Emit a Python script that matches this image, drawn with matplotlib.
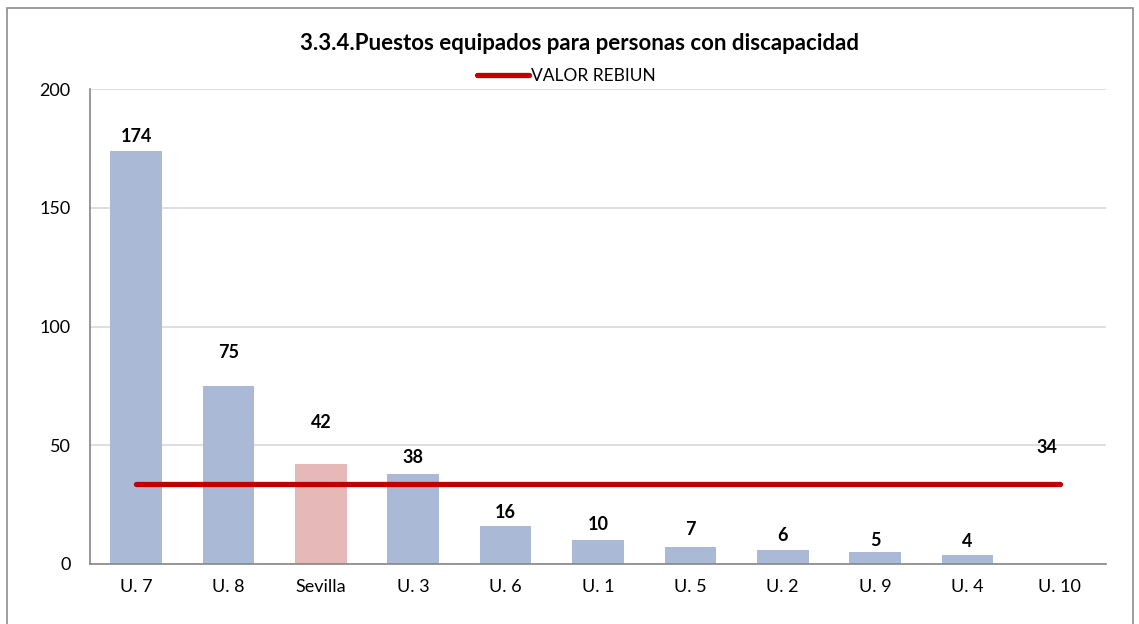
import matplotlib
matplotlib.use("Agg")
import matplotlib.pyplot as plt
from matplotlib.patches import Rectangle

# data
categories = ["U. 7", "U. 8", "Sevilla", "U. 3", "U. 6", "U. 1", "U. 5", "U. 2", "U. 9", "U. 4", "U. 10"]
values = [174, 75, 42, 38, 16, 10, 7, 6, 5, 4, 0]
rebiun_value = 33.7
rebiun_label = "34"

# label gap above each bar (pixels), as Excel placed them
label_gap = [14, 33, 42, 16, 13, 16, 18, 14, 12, 13, 0]

plt.rcParams['font.family'] = ['Lato', 'DejaVu Sans']

fig = plt.figure(figsize=(11.39, 6.24), dpi=100)
ax = fig.add_axes([90 / 1139, 60 / 624, 1016 / 1139, 475 / 624])

# outer chart frame
fig.patches.append(Rectangle((7 / 1139, -0.05), 1126 / 1139, 1.05 - 8 / 624,
                             transform=fig.transFigure, fill=False,
                             edgecolor="#8c8c8c", linewidth=1.2))

x = range(len(categories))
colors = ["#E6B8B7" if c == "Sevilla" else "#A9B9D6" for c in categories]
ax.bar(x, values, width=0.56, color=colors, zorder=2)

for i, v in enumerate(values):
    if v > 0:
        ax.annotate(str(v), (i, v), xytext=(0, label_gap[i] * 0.72),
                    textcoords="offset points", ha="center", va="center",
                    fontsize=13, fontweight="bold")

ax.plot(x, [rebiun_value] * len(categories), color="#C00000", linewidth=3.8,
        solid_capstyle="round", zorder=3, label="VALOR REBIUN")
ax.annotate(rebiun_label, (len(categories) - 1, rebiun_value), xytext=(-13 * 0.72, 36 * 0.72),
            textcoords="offset points", ha="center", va="center",
            fontsize=13, fontweight="bold")

ax.set_xlim(-0.5, len(categories) - 0.5)
ax.set_ylim(0, 200)
ax.set_yticks([0, 50, 100, 150, 200])
ax.set_xticks(list(x))
ax.set_xticklabels(categories)
ax.tick_params(axis="both", length=0, labelsize=13)
ax.tick_params(axis="x", pad=11)
ax.tick_params(axis="y", pad=14)
ax.grid(axis="y", color="#D9D9D9", linewidth=1.2, zorder=0)
ax.set_axisbelow(True)
for s in ["top", "right"]:
    ax.spines[s].set_visible(False)
ax.spines["left"].set_color("#868686")
ax.spines["bottom"].set_color("#868686")
ax.spines["left"].set_linewidth(1.2)
ax.spines["bottom"].set_linewidth(1.2)

fig.text(580 / 1139, 1 - 44 / 624, "3.3.4.Puestos equipados para personas con discapacidad",
         ha="center", va="center", fontsize=16, fontweight="bold")
fig.legend(loc="center", bbox_to_anchor=(566 / 1139, 1 - 76 / 624), frameon=False,
           fontsize=12.5, handlelength=3.0, handletextpad=0.1, borderaxespad=0)

fig.savefig("out.png", dpi=100)
